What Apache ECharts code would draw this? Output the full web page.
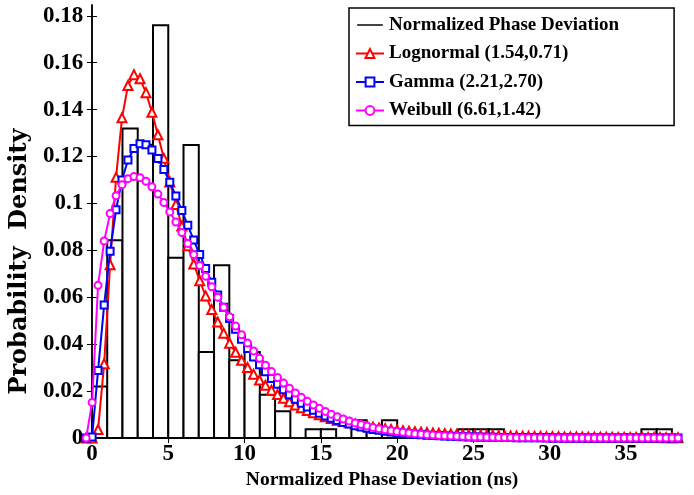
<!DOCTYPE html>
<html><head><meta charset="utf-8">
<script src="https://cdn.jsdelivr.net/npm/echarts@6/dist/echarts.min.js"></script>
<style>html,body{margin:0;padding:0;background:#fff}#c{width:694px;height:495px}</style>
</head><body><div id="c"></div>
<script>
// Histogram: bin edges (ns) and probability density per bin
const binEdges = [0,1,2,3,4,5,6,7,8,9,10,11,12,13,14,15,16,17,18,19,20,21,22,23,24,25,26,27,28,29,30,31,32,33,34,35,36,37,38];
const histDensity = [0.0220,0.0843,0.1320,0.1250,0.1760,0.0769,0.1249,0.0367,0.0737,0.0332,
                     0.0367,0.0185,0.0114,0,0.0038,0.0038,0,0.0076,0.0038,0.0076,
                     0,0,0,0,0.0038,0.0038,0.0038,0,0,0,
                     0,0,0,0,0,0,0.0038,0.0038];
// Fitted-curve sample positions (ns)
const xGrid = [-0.38,0.01,0.40,0.80,1.19,1.58,1.97,2.36,2.75,3.15,
               3.54,3.93,4.32,4.71,5.10,5.50,5.89,6.28,6.67,7.06,
               7.45,7.85,8.24,8.63,9.02,9.41,9.80,10.20,10.59,10.98,
               11.37,11.76,12.16,12.55,12.94,13.33,13.72,14.11,14.51,14.90,
               15.29,15.68,16.07,16.46,16.86,17.25,17.64,18.03,18.42,18.81,
               19.21,19.60,19.99,20.38,20.77,21.16,21.56,21.95,22.34,22.73,
               23.12,23.51,23.91,24.30,24.69,25.08,25.47,25.87,26.26,26.65,
               27.04,27.43,27.82,28.22,28.61,29.00,29.39,29.78,30.17,30.57,
               30.96,31.35,31.74,32.13,32.52,32.92,33.31,33.70,34.09,34.48,
               34.87,35.27,35.66,36.05,36.44,36.83,37.22,37.62,38.01,38.40];
const lognormalY = [0,0,0.00364,0.03167,0.07386,0.11113,0.13650,0.15028,0.15491,0.15314,
                    0.14724,0.13889,0.12928,0.11923,0.10921,0.09954,0.09043,0.08198,0.07419,0.06707,
                    0.06062,0.05477,0.04948,0.04473,0.04046,0.03661,0.03315,0.03005,0.02725,0.02474,
                    0.02248,0.02044,0.01861,0.01696,0.01547,0.01412,0.01290,0.01180,0.01081,0.00990,
                    0.00908,0.00834,0.00766,0.00705,0.00649,0.00598,0.00551,0.00508,0.00469,0.00434,
                    0.00401,0.00371,0.00344,0.00319,0.00296,0.00275,0.00255,0.00237,0.00221,0.00205,
                    0.00191,0.00178,0.00166,0.00155,0.00145,0.00135,0.00127,0.00118,0.00111,0.00104,
                    0.00097,0.00091,0.00085,0.00080,0.00075,0.00071,0.00066,0.00062,0.00059,0.00055,
                    0.00052,0.00049,0.00046,0.00043,0.00041,0.00039,0.00037,0.00034,0.00033,0.00031,
                    0.00029,0.00027,0.00026,0.00025,0.00023,0.00022,0.00021,0.00020,0.00019,0.00018];
const gammaY = [0,0.00047,0.02884,0.05673,0.07966,0.09732,0.11004,0.11855,0.12346,0.12543,
                0.12505,0.12281,0.11918,0.11451,0.10909,0.10319,0.09699,0.09071,0.08442,0.07823,
                0.07224,0.06648,0.06099,0.05580,0.05094,0.04639,0.04215,0.03823,0.03461,0.03128,
                0.02823,0.02544,0.02290,0.02058,0.01847,0.01656,0.01484,0.01328,0.01187,0.01061,
                0.00946,0.00844,0.00752,0.00670,0.00596,0.00530,0.00471,0.00418,0.00371,0.00330,
                0.00292,0.00259,0.00229,0.00203,0.00180,0.00159,0.00141,0.00124,0.00110,0.00097,
                0.00086,0.00076,0.00067,0.00059,0.00052,0.00046,0.00040,0.00036,0.00031,0.00028,
                0.00024,0.00021,0.00019,0.00017,0.00015,0.00013,0.00011,0.00010,0.00009,0.00008,
                0.00007,0.00006,0.00005,0.00005,0.00004,0.00004,0.00003,0.00003,0.00002,0.00002,
                0.00002,0.00002,0.00001,0.00001,0.00001,0.00001,0.00001,0.00001,0.00001,0.00001];
const weibullY = [0,0.01516,0.06511,0.08400,0.09571,0.10330,0.10801,0.11058,0.11146,0.11101,
                  0.10948,0.10709,0.10401,0.10041,0.09640,0.09210,0.08760,0.08298,0.07830,0.07362,
                  0.06901,0.06448,0.06006,0.05579,0.05169,0.04777,0.04403,0.04050,0.03716,0.03403,
                  0.03109,0.02836,0.02581,0.02344,0.02126,0.01924,0.01738,0.01568,0.01412,0.01269,
                  0.01139,0.01020,0.00913,0.00816,0.00728,0.00648,0.00577,0.00512,0.00454,0.00403,
                  0.00356,0.00315,0.00278,0.00245,0.00215,0.00189,0.00166,0.00146,0.00128,0.00112,
                  0.00098,0.00085,0.00074,0.00065,0.00056,0.00049,0.00043,0.00037,0.00032,0.00028,
                  0.00024,0.00021,0.00018,0.00015,0.00013,0.00011,0.00010,0.00008,0.00007,0.00006,
                  0.00005,0.00004,0.00004,0.00003,0.00003,0.00002,0.00002,0.00002,0.00001,0.00001,
                  0.00001,0.00001,0.00001,0.00001,0,0,0,0,0,0];
const xTicks = [0,5,10,15,20,25,30,35];
const yTicks = [0,0.02,0.04,0.06,0.08,0.10,0.12,0.14,0.16,0.18];
const seriesNames = ['Normalized Phase Deviation','Lognormal (1.54,0.71)','Gamma (2.21,2.70)','Weibull (6.61,1.42)'];

const FONT = 'Liberation Serif';
const histData = histDensity.map((d, i) => [binEdges[i], binEdges[i + 1], d]);
const pairs = ys => xGrid.map((x, i) => [x, ys[i]]);
const fmtY = v => (Math.abs(v) < 1e-9 ? '0' : String(+v.toFixed(2)));

const axisLine = { show: true, lineStyle: { color: '#000', width: 1.5 } };
const tickX = { show: true, inside: true, length: 5, customValues: xTicks, lineStyle: { color: '#000', width: 1 } };
const tickY = { show: true, inside: true, length: 5, customValues: yTicks, lineStyle: { color: '#000', width: 1 } };

const chart = echarts.init(document.getElementById('c'), null, { renderer: 'canvas' });
chart.setOption({
  animation: false,
  backgroundColor: '#fff',
  grid: { left: 83, right: 16, top: 5, bottom: 51, containLabel: false },
  xAxis: [{
    type: 'value', min: -0.38, max: 38.4, position: 'bottom',
    axisLine, axisTick: tickX, splitLine: { show: false },
    axisLabel: { customValues: xTicks, color: '#000', fontFamily: FONT, fontWeight: 'bold', fontSize: 23, margin: 4 },
    name: 'Normalized Phase Deviation (ns)', nameLocation: 'middle', nameGap: 29,
    nameTextStyle: { color: '#000', fontFamily: FONT, fontWeight: 'bold', fontSize: 19.5 }
  }, {
    type: 'value', min: -0.38, max: 38.4, position: 'top',
    axisLine, axisTick: tickX, splitLine: { show: false }, axisLabel: { show: false }
  }],
  yAxis: [{
    type: 'value', min: 0, max: 0.1846, position: 'left',
    axisLine, axisTick: tickY, splitLine: { show: false },
    axisLabel: { customValues: yTicks, formatter: fmtY, color: '#000', fontFamily: FONT, fontWeight: 'bold', fontSize: 23, margin: 3 },
    name: 'Probability  Density', nameLocation: 'middle', nameGap: 48,
    nameTextStyle: { color: '#000', fontFamily: 'DejaVu Serif', fontWeight: 'bold', fontSize: 24, padding: [0, 80, 0, 0] }
  }, {
    type: 'value', min: 0, max: 0.1846, position: 'right',
    axisLine, axisTick: tickY, splitLine: { show: false }, axisLabel: { show: false }
  }],
  legend: {
    orient: 'vertical', left: 349, top: 8,
    padding: [7, 55, 5, 6], itemGap: 8.5, itemWidth: 28, itemHeight: 11,
    borderColor: '#000', borderWidth: 1.5, backgroundColor: '#fff',
    textStyle: { color: '#000', fontFamily: FONT, fontWeight: 'bold', fontSize: 19, lineHeight: 20 },
    data: [
      { name: seriesNames[0], icon: 'path://M0,0 L0,0 M0,5.2 L28,5.2 L28,6.8 L0,6.8 Z M0,12 L0,12' },
      seriesNames[1], seriesNames[2], seriesNames[3]
    ]
  },
  series: [{
    name: seriesNames[0], type: 'custom', xAxisIndex: 0, yAxisIndex: 0,
    itemStyle: { color: '#000' },
    encode: { x: [0, 1], y: 2 },
    data: histData,
    renderItem: (params, api) => {
      const h = api.value(2);
      if (!(h > 0)) return null;
      const p0 = api.coord([api.value(0), h]);
      const p1 = api.coord([api.value(1), 0]);
      return { type: 'rect', shape: { x: p0[0], y: p0[1], width: p1[0] - p0[0], height: p1[1] - p0[1] },
               style: { fill: '#fff', stroke: '#000', lineWidth: 2 } };
    },
    z: 1
  }, {
    name: seriesNames[1], type: 'line', data: pairs(lognormalY), showAllSymbol: true,
    symbol: 'emptyTriangle', symbolSize: 9, color: '#ff0000',
    lineStyle: { color: '#ff0000', width: 2 }, itemStyle: { color: '#ff0000', borderWidth: 1.5 }, z: 2
  }, {
    name: seriesNames[2], type: 'line', data: pairs(gammaY), showAllSymbol: true,
    symbol: 'emptyRect', symbolSize: 7, color: '#0000ff',
    lineStyle: { color: '#0000ff', width: 2 }, itemStyle: { color: '#0000ff', borderWidth: 1.5 }, z: 3
  }, {
    name: seriesNames[3], type: 'line', data: pairs(weibullY), showAllSymbol: true,
    symbol: 'emptyCircle', symbolSize: 7, color: '#ff00ff',
    lineStyle: { color: '#ff00ff', width: 2 }, itemStyle: { color: '#ff00ff', borderWidth: 1.5 }, z: 4
  }]
});
</script></body></html>
